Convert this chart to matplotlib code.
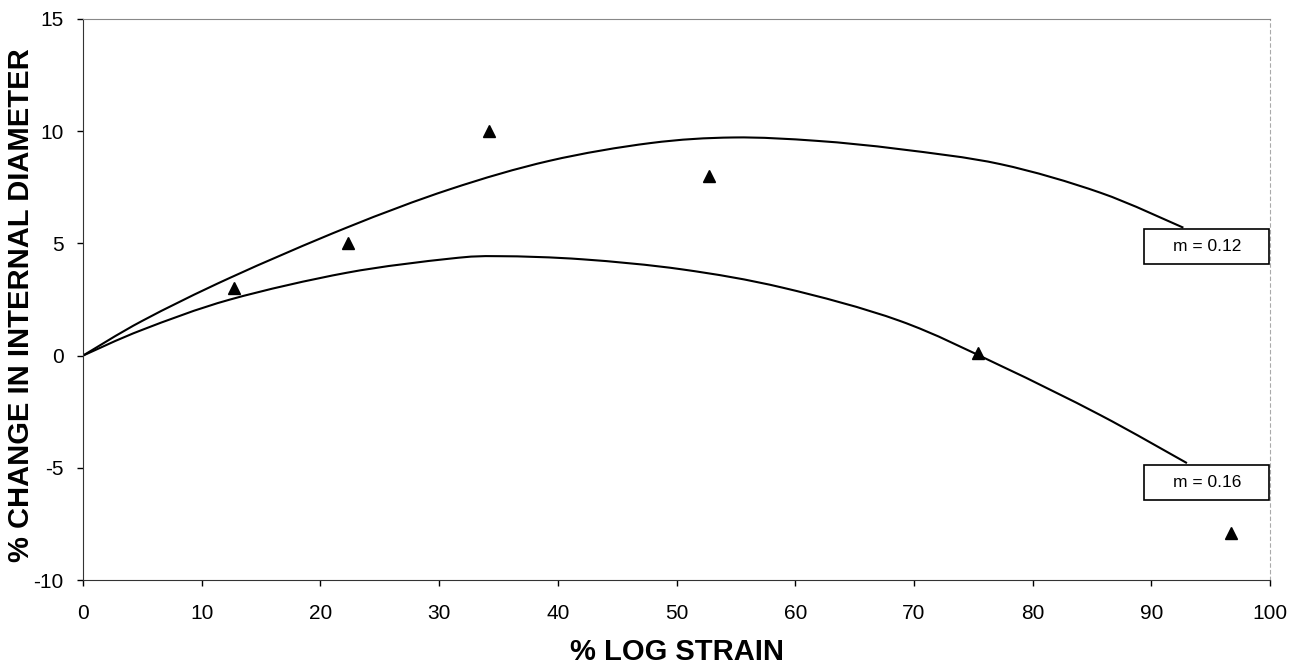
import matplotlib.pyplot as plt
import numpy as np
from matplotlib.patches import Rectangle, PathPatch
from matplotlib.path import Path

plt.rcParams['font.family'] = ['Liberation Sans', 'DejaVu Sans']
plt.rcParams['axes.unicode_minus'] = False

# measured points
strain = [12.7, 22.3, 34.2, 52.7, 75.4, 96.7]
change = [3.0, 5.0, 10.0, 8.0, 0.1, -7.9]

# curve m = 0.12
x_m12 = [0, 5, 12.4, 22.2, 30.9, 39.3, 47.8, 54.8, 61.8, 68.8, 77.3, 85.7, 92.7]
y_m12 = [0, 1.55, 3.47, 5.70, 7.41, 8.68, 9.47, 9.72, 9.57, 9.2, 8.53, 7.26, 5.70]

# curve m = 0.16
x_m16 = [0, 5, 12.4, 22.2, 30.9, 35.1, 42.1, 50.5, 59.0, 68.8, 77.3, 85.7, 93.0]
y_m16 = [0, 1.15, 2.5, 3.69, 4.32, 4.43, 4.29, 3.84, 3.02, 1.55, -0.45, -2.65, -4.79]

labels = ['m = 0.12', 'm = 0.16']


def smooth_line(ax, xs, ys, **kw):
    # "smoothed line" like a spreadsheet chart: bezier segments through the points
    p = np.column_stack([xs, ys]).astype(float)
    n = len(p)
    verts = [p[0]]
    codes = [Path.MOVETO]
    for i in range(n - 1):
        p0 = p[i - 1] if i > 0 else p[i]
        p3 = p[i + 2] if i + 2 < n else p[i + 1]
        c1 = p[i] + (p[i + 1] - p0) / 6
        c2 = p[i + 1] - (p3 - p[i]) / 6
        verts += [c1, c2, p[i + 1]]
        codes += [Path.CURVE4] * 3
    ax.add_patch(PathPatch(Path(verts, codes), fill=False, **kw))


fig = plt.figure(figsize=(13.05, 6.66), dpi=100)
ax = fig.add_axes([0.0636, 0.1291, 0.9096, 0.8424])

smooth_line(ax, x_m12, y_m12, edgecolor='black', linewidth=1.5)
smooth_line(ax, x_m16, y_m16, edgecolor='black', linewidth=1.5)
ax.plot(strain, change, linestyle='none', marker='^', color='black', markersize=8)

# label boxes
for yc, txt in zip([4.87, -5.65], labels):
    ax.add_patch(Rectangle((89.4, yc - 0.79), 10.5, 1.58, facecolor='white',
                           edgecolor='black', linewidth=1.2, zorder=3))
    ax.text(94.7, yc, txt, ha='center', va='center', fontsize=12.5, zorder=4)

ax.set_xlim(0, 100)
ax.set_ylim(-10, 15)
ax.set_xticks(range(0, 101, 10))
ax.set_yticks(range(-10, 16, 5))
ax.tick_params(axis='both', direction='out', length=4, width=1, labelsize=15, pad=10)
ax.tick_params(axis='x', pad=13)

ax.spines['left'].set_color('#333333')
ax.spines['bottom'].set_color('#333333')
ax.spines['top'].set_color('#888888')
ax.spines['top'].set_linestyle((0, (4, 1)))
ax.spines['right'].set_color('#aaaaaa')
ax.spines['right'].set_linestyle((0, (3, 3)))

ax.set_xlabel('% LOG STRAIN', fontsize=21, weight='bold')
ax.set_ylabel('% CHANGE IN INTERNAL DIAMETER', fontsize=21, weight='bold')
ax.xaxis.set_label_coords(0.5, -0.104)
ax.yaxis.set_label_coords(-0.0405, 0.49)

plt.savefig('out.png')
